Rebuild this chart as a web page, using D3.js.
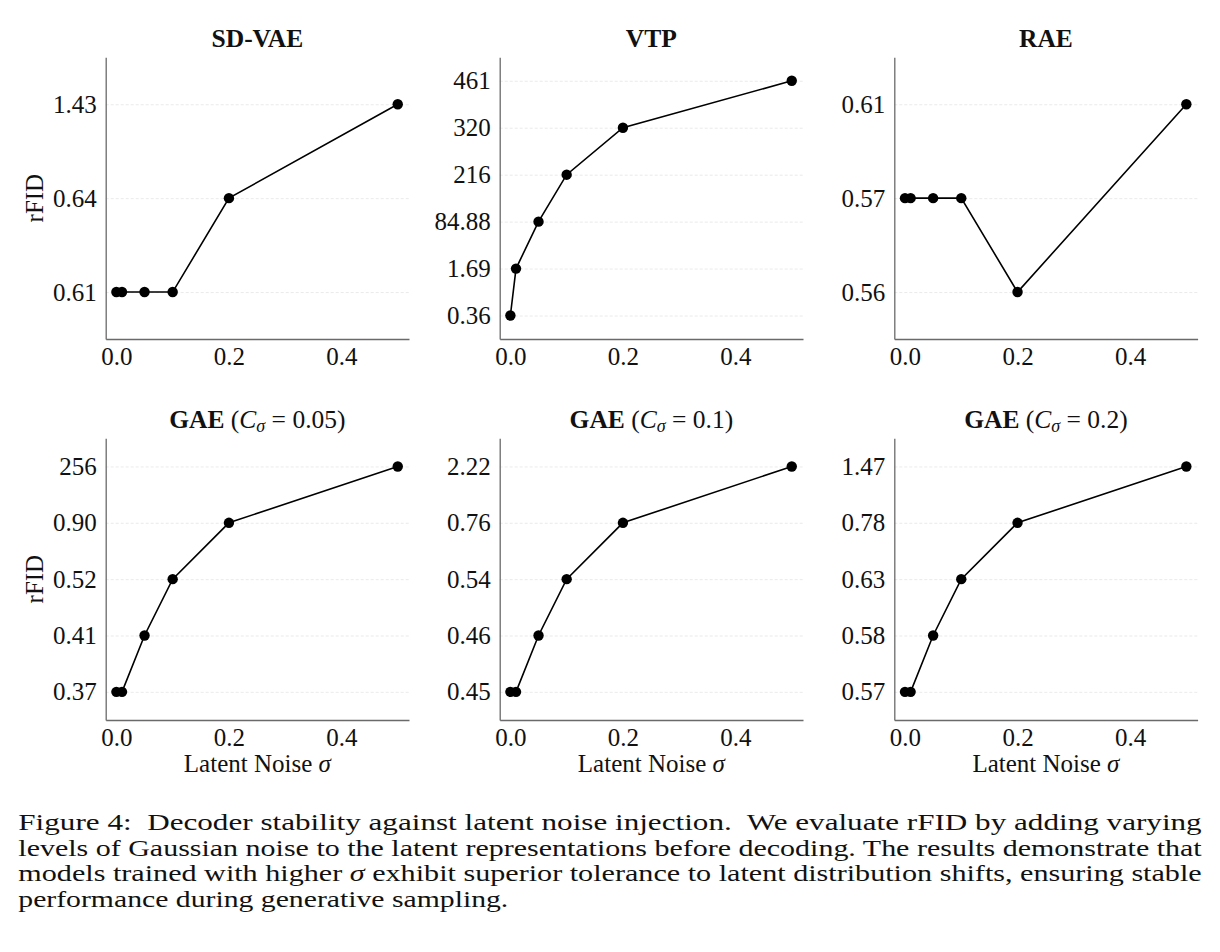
<!DOCTYPE html>
<html>
<head>
<meta charset="utf-8">
<script src="https://cdn.jsdelivr.net/npm/d3@7"></script>
<style>
  html, body { margin: 0; padding: 0; background: #fff; }
  svg { display: block; font-family: "Liberation Serif", "Times New Roman", serif; }
  .grid line { stroke: #e4e4e4; stroke-width: 0.8; stroke-dasharray: 3 2; }
  .grid path { display: none; }
  .axis path { stroke: #6a6a6a; stroke-width: 1.3; }
  .axis text { font-family: "Liberation Serif", "Times New Roman", serif; font-size: 25px; fill: #111; }
</style>
</head>
<body>
<div id="chart-container"></div>
<script>
// noise levels on the x axis (shared by every panel)
const noiseLevels = [0, 0.01, 0.05, 0.1, 0.2, 0.5];
const xTicks = [0, 0.2, 0.4];

// rFID per model, y ticks are the distinct values (rank spaced)
const sdvaeRfid = [0.61, 0.61, 0.61, 0.61, 0.64, 1.43];
const sdvaeTicks = ["0.61", "0.64", "1.43"];

const vtpRfid = [0.36, 1.69, 84.88, 216, 320, 461];
const vtpTicks = ["0.36", "1.69", "84.88", "216", "320", "461"];

const raeRfid = [0.57, 0.57, 0.57, 0.57, 0.56, 0.61];
const raeTicks = ["0.56", "0.57", "0.61"];

const gae005Rfid = [0.37, 0.37, 0.41, 0.52, 0.90, 256];
const gae005Ticks = ["0.37", "0.41", "0.52", "0.90", "256"];

const gae01Rfid = [0.45, 0.45, 0.46, 0.54, 0.76, 2.22];
const gae01Ticks = ["0.45", "0.46", "0.54", "0.76", "2.22"];

const gae02Rfid = [0.57, 0.57, 0.58, 0.63, 0.78, 1.47];
const gae02Ticks = ["0.57", "0.58", "0.63", "0.78", "1.47"];

const captionLines = [
  "Figure 4:  Decoder stability against latent noise injection.\u00a0 We evaluate rFID by adding varying",
  "levels of Gaussian noise to the latent representations before decoding. The results demonstrate that",
  ["models trained with higher ", "\u03c3", " exhibit superior tolerance to latent distribution shifts, ensuring stable"],
  "performance during generative sampling.",
];

// panels
const panels = [
  { title: "SD-VAE", values: sdvaeRfid, ticks: sdvaeTicks },
  { title: "VTP", values: vtpRfid, ticks: vtpTicks },
  { title: "RAE", values: raeRfid, ticks: raeTicks },
  { title: "GAE", c: "0.05", values: gae005Rfid, ticks: gae005Ticks },
  { title: "GAE", c: "0.1", values: gae01Rfid, ticks: gae01Ticks },
  { title: "GAE", c: "0.2", values: gae02Rfid, ticks: gae02Ticks },
];

const W = 1220, H = 952;
const plotW = 303.3, plotH = 281.7;
const colLefts = [105.7, 499.7, 894.3];
const rowTops = [57.3, 438.3];

const svg = d3.select("#chart-container").append("svg")
  .attr("width", W).attr("height", H);

panels.forEach((p, i) => {
  const row = Math.floor(i / 3), col = i % 3;
  const g = svg.append("g")
    .attr("transform", `translate(${colLefts[col]}, ${rowTops[row]})`);

  const x = d3.scaleLinear().domain([-0.019, 0.52]).range([0, plotW]);
  const tickNums = p.ticks.map(Number);
  const y = d3.scalePoint().domain(tickNums).range([plotH, 0]).padding(0.5);

  // grid
  g.append("g").attr("class", "grid")
    .call(d3.axisLeft(y).tickSize(-plotW).tickFormat(""));

  // axes
  g.append("g").attr("class", "axis")
    .call(d3.axisLeft(y).tickSize(0).tickSizeOuter(0).tickPadding(9)
      .tickFormat((d, k) => p.ticks[k]));
  g.append("g").attr("class", "axis")
    .attr("transform", `translate(0, ${plotH})`)
    .call(d3.axisBottom(x).tickValues(xTicks).tickSize(0).tickSizeOuter(0)
      .tickPadding(8.3).tickFormat(d3.format(".1f")));

  // line + markers
  const pts = noiseLevels.map((n, k) => [x(n), y(p.values[k])]);
  g.append("path")
    .attr("d", d3.line()(pts))
    .attr("fill", "none").attr("stroke", "#000").attr("stroke-width", 1.6);
  g.selectAll("circle").data(pts).enter().append("circle")
    .attr("cx", d => d[0]).attr("cy", d => d[1]).attr("r", 5.2)
    .attr("fill", "#000");

  // title
  const t = g.append("text")
    .attr("x", plotW / 2).attr("y", -10.7)
    .attr("text-anchor", "middle")
    .attr("font-size", 25.5).attr("fill", "#111");
  t.append("tspan").attr("font-weight", "bold").text(p.title);
  if (p.c) {
    t.append("tspan").text(" (");
    t.append("tspan").attr("font-style", "italic").text("C");
    t.append("tspan").attr("font-style", "italic").attr("font-size", 18)
      .attr("dy", 4.5).text("\u03c3");
    t.append("tspan").attr("dy", -4.5).text(" = " + p.c + ")");
  }

  // y label on first column
  if (col === 0) {
    g.append("text")
      .attr("transform", `translate(${43.5 - colLefts[0]}, ${plotH / 2}) rotate(-90)`)
      .attr("text-anchor", "middle")
      .attr("font-size", 25).attr("fill", "#111")
      .text("rFID");
  }

  // x label on bottom row
  if (row === 1) {
    const xl = g.append("text")
      .attr("x", plotW / 2).attr("y", plotH + 51.7)
      .attr("text-anchor", "middle")
      .attr("font-size", 25).attr("fill", "#111");
    xl.append("tspan").text("Latent Noise ");
    xl.append("tspan").attr("font-style", "italic").text("\u03c3");
  }
});

// caption
const capBase = [830, 855.5, 881, 906.5];
const capLen = [1183.4, 1183.4, 1183.4, 490];
captionLines.forEach((line, i) => {
  const t = svg.append("text")
    .attr("x", 18.3).attr("y", capBase[i])
    .attr("font-size", 23).attr("fill", "#111")
    .attr("textLength", capLen[i])
    .attr("lengthAdjust", "spacingAndGlyphs")
    .style("white-space", "pre");
  if (Array.isArray(line)) {
    t.append("tspan").text(line[0]);
    t.append("tspan").attr("font-style", "italic").text(line[1]);
    t.append("tspan").text(line[2]);
  } else {
    t.text(line);
  }
});
</script>
</body>
</html>
